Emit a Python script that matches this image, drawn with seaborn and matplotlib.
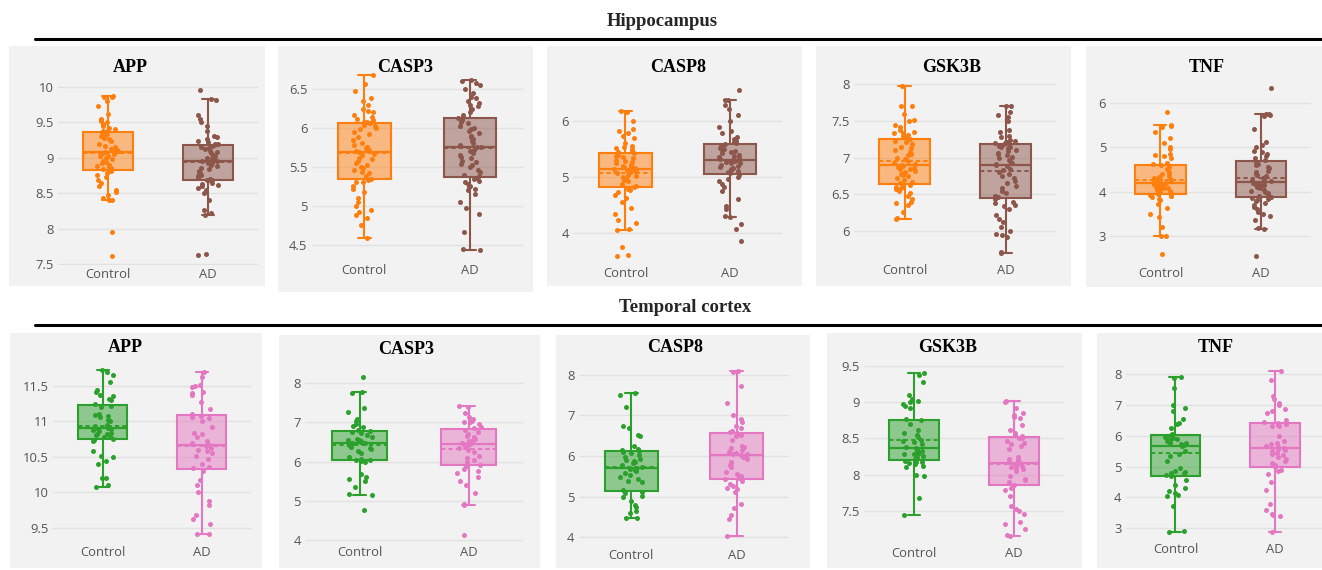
import numpy as np
import pandas as pd
import matplotlib
matplotlib.use("Agg")
import matplotlib.pyplot as plt
from matplotlib.patches import Rectangle
from matplotlib.lines import Line2D
from matplotlib.colors import to_rgba
from matplotlib.ticker import FuncFormatter
import seaborn as sns

# ---------------- data ----------------
groups = ["Control", "AD"]
genes = ["APP", "CASP3", "CASP8", "GSK3B", "TNF"]
sections = ["Hippocampus", "Temporal cortex"]

# Hippocampus
hip_app_control = [8.40, 8.41, 8.43, 8.47, 8.52, 8.55, 8.60, 8.64, 8.68, 8.73, 8.76, 8.79, 8.81, 8.84,
                   8.85, 8.87, 8.88, 8.90, 8.92, 8.94, 8.96, 8.98, 9.00, 9.02, 9.03, 9.05, 9.06, 9.07, 9.08,
                   9.09, 9.10, 9.12, 9.13, 9.15, 9.17, 9.20, 9.23, 9.26, 9.28, 9.30, 9.32, 9.34, 9.36, 9.37,
                   9.38, 9.40, 9.42, 9.44, 9.47, 9.50, 9.52, 9.55, 9.62, 9.73, 9.80, 9.85, 9.86, 9.87,
                   7.96, 7.62]
hip_app_ad = [8.19, 8.22, 8.27, 8.40, 8.50, 8.54, 8.57, 8.60, 8.62, 8.63, 8.65, 8.67, 8.68, 8.69,
              8.70, 8.72, 8.74, 8.76, 8.78, 8.80, 8.82, 8.84, 8.86, 8.88, 8.90, 8.92, 8.93, 8.95, 8.96,
              8.97, 8.99, 9.00, 9.02, 9.04, 9.06, 9.08, 9.10, 9.12, 9.14, 9.15, 9.16, 9.17, 9.18, 9.19,
              9.20, 9.22, 9.24, 9.27, 9.29, 9.30, 9.38, 9.44, 9.50, 9.54, 9.60, 9.81, 9.82,
              9.95, 7.64, 7.63]
hip_casp3_control = [4.58, 4.75, 4.84, 4.88, 4.92, 4.95, 5.00, 5.05, 5.10, 5.18, 5.21, 5.25, 5.30, 5.31, 5.33,
                     5.35, 5.38, 5.42, 5.44, 5.46, 5.48, 5.50, 5.52, 5.55, 5.58, 5.60, 5.62, 5.65, 5.67, 5.69,
                     5.70, 5.72, 5.74, 5.76, 5.78, 5.80, 5.84, 5.88, 5.92, 5.95, 5.98, 6.00, 6.02, 6.04, 6.06,
                     6.07, 6.08, 6.10, 6.12, 6.14, 6.17, 6.20, 6.22, 6.24, 6.30, 6.35, 6.38, 6.48, 6.56, 6.68]
hip_casp3_ad = [4.43, 4.44, 4.66, 4.90, 4.97, 5.05, 5.15, 5.20, 5.22, 5.24, 5.26, 5.28, 5.30, 5.32, 5.34, 5.36,
                5.38, 5.40, 5.43, 5.46, 5.50, 5.52, 5.54, 5.56, 5.58, 5.61, 5.63, 5.65, 5.68, 5.70, 5.72, 5.75,
                5.76, 5.78, 5.80, 5.83, 5.86, 5.88, 5.90, 5.93, 5.96, 5.98, 6.00, 6.03, 6.06, 6.08, 6.10, 6.13,
                6.14, 6.16, 6.20, 6.24, 6.28, 6.30, 6.32, 6.35, 6.38, 6.40, 6.45, 6.50, 6.55, 6.58, 6.60, 6.61]
hip_casp8_control = [4.04, 4.06, 4.18, 4.22, 4.33, 4.45, 4.55, 4.62, 4.68, 4.72, 4.76, 4.79, 4.82,
                     4.84, 4.88, 4.92, 4.95, 4.97, 5.00, 5.02, 5.04, 5.06, 5.08, 5.10, 5.11, 5.12, 5.14, 5.15,
                     5.16, 5.17, 5.18, 5.20, 5.22, 5.24, 5.26, 5.28, 5.30, 5.33, 5.35, 5.38, 5.40, 5.42, 5.45,
                     5.46, 5.50, 5.52, 5.54, 5.56, 5.60, 5.70, 5.74, 5.78, 5.82, 5.85, 6.00, 6.17, 6.18,
                     3.75, 3.60, 3.58]
hip_casp8_ad = [4.28, 4.30, 4.42, 4.48, 4.60, 4.75, 4.82, 4.87, 4.93, 4.97, 5.00, 5.03,
                5.06, 5.08, 5.10, 5.12, 5.14, 5.16, 5.18, 5.20, 5.22, 5.24, 5.25, 5.26, 5.27, 5.28, 5.30,
                5.31, 5.32, 5.34, 5.36, 5.38, 5.40, 5.42, 5.44, 5.46, 5.48, 5.50, 5.52, 5.55, 5.57, 5.59,
                5.61, 5.62, 5.64, 5.68, 5.72, 5.78, 5.82, 5.90, 6.00, 6.10, 6.22, 6.28, 6.37, 6.38,
                6.55, 4.15, 4.07, 3.85]
hip_gsk3b_control = [6.17, 6.18, 6.26, 6.36, 6.38, 6.40, 6.44, 6.48, 6.52, 6.55, 6.57, 6.58, 6.60, 6.62, 6.63,
                     6.65, 6.67, 6.69, 6.72, 6.75, 6.77, 6.78, 6.80, 6.82, 6.84, 6.85, 6.86, 6.87, 6.89, 6.90,
                     6.91, 6.93, 6.95, 6.98, 7.00, 7.03, 7.05, 7.08, 7.10, 7.13, 7.15, 7.18, 7.21, 7.23, 7.25,
                     7.27, 7.29, 7.31, 7.33, 7.34, 7.35, 7.38, 7.42, 7.44, 7.50, 7.52, 7.60, 7.70, 7.71, 7.98]
hip_gsk3b_ad = [5.70, 5.72, 5.92, 5.94, 5.96, 6.00, 6.05, 6.12, 6.16, 6.22, 6.30, 6.34, 6.36, 6.38, 6.40, 6.44,
                6.46, 6.48, 6.52, 6.55, 6.58, 6.62, 6.65, 6.68, 6.72, 6.75, 6.78, 6.80, 6.83, 6.85, 6.88, 6.90,
                6.91, 6.93, 6.95, 6.97, 6.99, 7.01, 7.03, 7.05, 7.07, 7.09, 7.11, 7.13, 7.14, 7.15, 7.16, 7.18,
                7.19, 7.20, 7.21, 7.22, 7.23, 7.24, 7.28, 7.30, 7.35, 7.38, 7.50, 7.55, 7.58, 7.62, 7.70, 7.71]
hip_tnf_control = [2.99, 3.00, 3.20, 3.42, 3.50, 3.62, 3.72, 3.80, 3.84, 3.87, 3.89, 3.90, 3.92, 3.93,
                   3.95, 3.97, 3.99, 4.01, 4.03, 4.05, 4.07, 4.09, 4.10, 4.12, 4.14, 4.15, 4.16, 4.18, 4.19,
                   4.20, 4.21, 4.23, 4.25, 4.27, 4.29, 4.31, 4.33, 4.36, 4.39, 4.42, 4.45, 4.50, 4.55, 4.60,
                   4.62, 4.65, 4.75, 4.80, 4.82, 4.85, 4.95, 5.00, 5.10, 5.20, 5.35, 5.45, 5.48, 5.50,
                   5.78, 2.60]
hip_tnf_ad = [3.15, 3.17, 3.35, 3.45, 3.50, 3.55, 3.60, 3.65, 3.70, 3.74, 3.78, 3.81, 3.84, 3.86,
              3.88, 3.90, 3.93, 3.96, 3.98, 4.01, 4.04, 4.07, 4.10, 4.12, 4.14, 4.15, 4.17, 4.18, 4.20,
              4.21, 4.23, 4.25, 4.28, 4.31, 4.34, 4.37, 4.40, 4.43, 4.47, 4.52, 4.56, 4.60, 4.63, 4.67,
              4.70, 4.75, 4.80, 4.85, 4.88, 4.92, 5.00, 5.05, 5.12, 5.40, 5.70, 5.73, 5.74, 5.75,
              6.32, 2.55]

# Temporal cortex
tc_app_control = [10.08, 10.10, 10.20, 10.21, 10.40, 10.45, 10.50, 10.52, 10.58, 10.72, 10.74,
                  10.76, 10.78, 10.80, 10.81, 10.82, 10.83, 10.84, 10.86, 10.88, 10.89, 10.90,
                  10.91, 10.93, 10.95, 11.00, 11.02, 11.07, 11.08, 11.09, 11.10, 11.20, 11.22,
                  11.25, 11.30, 11.32, 11.36, 11.38, 11.42, 11.45, 11.55, 11.65, 11.70, 11.72]
tc_app_ad = [9.41, 9.42, 9.55, 9.62, 9.68, 9.82, 9.88, 10.00, 10.10, 10.18, 10.30,
             10.34, 10.36, 10.40, 10.47, 10.52, 10.55, 10.58, 10.60, 10.63, 10.65, 10.67,
             10.68, 10.70, 10.72, 10.78, 10.82, 10.84, 10.92, 11.00, 11.05, 11.06, 11.08,
             11.10, 11.18, 11.28, 11.37, 11.40, 11.42, 11.48, 11.50, 11.52, 11.62, 11.70]
tc_casp3_control = [5.15, 5.18, 5.35, 5.50, 5.55, 5.62, 5.68, 6.00, 6.02, 6.03,
                    6.05, 6.08, 6.12, 6.22, 6.28, 6.32, 6.35, 6.38, 6.42, 6.45, 6.47,
                    6.48, 6.50, 6.52, 6.54, 6.56, 6.58, 6.62, 6.68, 6.72, 6.75, 6.77,
                    6.80, 6.88, 6.92, 6.95, 7.05, 7.10, 7.28, 7.38, 7.75, 7.77,
                    8.16, 4.76]
tc_casp3_ad = [4.90, 4.92, 5.20, 5.40, 5.50, 5.60, 5.70, 5.75, 5.82, 5.88,
               5.92, 6.00, 6.05, 6.10, 6.15, 6.25, 6.30, 6.35, 6.40, 6.42, 6.44,
               6.46, 6.48, 6.50, 6.52, 6.55, 6.58, 6.62, 6.65, 6.70, 6.75, 6.82,
               6.85, 6.88, 6.95, 7.00, 7.02, 7.05, 7.10, 7.15, 7.25, 7.40, 7.43,
               4.13]
tc_casp8_control = [4.46, 4.48, 4.60, 4.65, 4.75, 4.80, 4.88, 4.98, 5.02, 5.08, 5.10,
                    5.15, 5.35, 5.38, 5.42, 5.48, 5.52, 5.58, 5.62, 5.65, 5.68, 5.69,
                    5.72, 5.78, 5.82, 5.85, 5.88, 5.90, 5.92, 5.97, 6.02, 6.08, 6.11,
                    6.13, 6.15, 6.18, 6.25, 6.50, 6.52, 6.70, 6.75, 7.22, 7.50, 7.55]
tc_casp8_ad = [4.02, 4.45, 4.55, 4.72, 4.82, 5.10, 5.18, 5.22, 5.25, 5.30, 5.38, 5.42,
               5.45, 5.50, 5.55, 5.60, 5.72, 5.78, 5.82, 5.85, 5.92, 5.98, 6.00, 6.02,
               6.04, 6.06, 6.08, 6.10, 6.15, 6.20, 6.22, 6.25, 6.40, 6.50, 6.52, 6.55,
               6.58, 6.60, 6.62, 6.70, 6.75, 6.85, 6.92, 7.00, 7.30, 7.72, 8.08, 8.10]
tc_gsk3b_control = [7.44, 7.68, 7.98, 8.00, 8.10, 8.12, 8.15, 8.16, 8.17, 8.18, 8.19,
                    8.21, 8.24, 8.26, 8.28, 8.29, 8.30, 8.31, 8.32, 8.34, 8.35, 8.36,
                    8.38, 8.42, 8.45, 8.46, 8.48, 8.52, 8.55, 8.58, 8.62, 8.70, 8.75,
                    8.77, 8.92, 8.95, 8.98, 9.00, 9.02, 9.05, 9.10, 9.28, 9.38, 9.40]
tc_gsk3b_ad = [7.15, 7.17, 7.25, 7.32, 7.35, 7.45, 7.50, 7.52, 7.56, 7.70, 7.78, 7.82,
               7.86, 7.90, 7.92, 7.94, 7.98, 8.05, 8.08, 8.09, 8.10, 8.12, 8.14, 8.15,
               8.16, 8.18, 8.20, 8.22, 8.24, 8.35, 8.40, 8.42, 8.44, 8.46, 8.50, 8.51,
               8.53, 8.55, 8.58, 8.62, 8.68, 8.78, 8.80, 8.82, 8.85, 8.92, 9.00, 9.01]
tc_tnf_control = [2.89, 2.90, 3.72, 4.05, 4.08, 4.15, 4.20, 4.30, 4.40, 4.55, 4.68,
                  4.72, 4.78, 4.80, 4.82, 4.85, 4.95, 5.18, 5.35, 5.42, 5.50, 5.66,
                  5.70, 5.72, 5.75, 5.78, 5.82, 5.85, 5.90, 5.92, 5.95, 5.98, 6.02,
                  6.05, 6.25, 6.38, 6.40, 6.55, 6.80, 6.90, 7.00, 7.55, 7.88, 7.90]
tc_tnf_ad = [3.40, 3.42, 3.45, 3.60, 3.80, 4.25, 4.50, 4.75, 4.85, 4.90, 4.98,
             5.05, 5.12, 5.18, 5.25, 5.30, 5.38, 5.42, 5.45, 5.50, 5.55, 5.58, 5.61,
             5.64, 5.68, 5.72, 5.78, 5.82, 6.00, 6.30, 6.32, 6.35, 6.38, 6.42,
             6.46, 6.50, 6.75, 6.80, 6.85, 7.00, 7.05, 7.20, 7.30, 7.80, 8.10,
             2.88]

hip_ticks = [[7.5, 8, 8.5, 9, 9.5, 10], [4.5, 5, 5.5, 6, 6.5], [4, 5, 6],
             [6, 6.5, 7, 7.5, 8], [3, 4, 5, 6]]
tc_ticks = [[9.5, 10, 10.5, 11, 11.5], [4, 5, 6, 7, 8], [4, 5, 6, 7, 8],
            [7.5, 8, 8.5, 9, 9.5], [3, 4, 5, 6, 7, 8]]

hip_data = [(hip_app_control, hip_app_ad), (hip_casp3_control, hip_casp3_ad),
            (hip_casp8_control, hip_casp8_ad), (hip_gsk3b_control, hip_gsk3b_ad),
            (hip_tnf_control, hip_tnf_ad)]
tc_data = [(tc_app_control, tc_app_ad), (tc_casp3_control, tc_casp3_ad),
           (tc_casp8_control, tc_casp8_ad), (tc_gsk3b_control, tc_gsk3b_ad),
           (tc_tnf_control, tc_tnf_ad)]

hip_colors = {"Control": "#ff7f0e", "AD": "#8c564b"}
tc_colors = {"Control": "#2ca02c", "AD": "#e377c2"}

# ---------------- layout (pixels) ----------------
W, H = 1322, 570
BG = "#f2f2f2"

hip_layout = [
    dict(bg=(9, 46, 265, 286), x=(57.5, 257.5), y=(72, 265), cal=((10, 86.7), (7.5, 264.3)), title=(130, 67)),
    dict(bg=(278, 46, 533, 292), x=(311.5, 522.8), y=(72, 261), cal=((6.5, 89), (4.5, 244.7)), title=(405, 67)),
    dict(bg=(547, 46, 802, 286), x=(573.2, 782.2), y=(72, 264.5), cal=((6, 121), (4, 232.7)), title=(678, 67)),
    dict(bg=(816, 46, 1071, 286), x=(854, 1056.2), y=(72, 261.5), cal=((8, 84.3), (6, 231)), title=(952, 67)),
    dict(bg=(1086, 46, 1322, 287), x=(1110.3, 1311), y=(72, 264), cal=((6, 102.7), (3, 236)), title=(1207, 67)),
]
tc_layout = [
    dict(bg=(10, 333, 262, 568), x=(53.2, 251.2), y=(360, 543.5), cal=((11.5, 386), (9.5, 528)), title=(125, 347)),
    dict(bg=(279, 335, 540, 568), x=(305.2, 523.2), y=(360, 543.5), cal=((8, 383.3), (4, 540)), title=(406, 349)),
    dict(bg=(556, 335, 810, 568), x=(578.7, 789.1), y=(360, 546), cal=((8, 375), (4, 537)), title=(675, 348)),
    dict(bg=(827, 333, 1082, 568), x=(863.5, 1064.4), y=(360, 544), cal=((9.5, 366), (7.5, 510.7)), title=(948, 347)),
    dict(bg=(1097, 333, 1322, 568), x=(1125.6, 1325), y=(360, 540), cal=((8, 374), (3, 528.3)), title=(1216, 348)),
]

sns.set_style("white")
plt.rcParams["font.family"] = ["Open Sans", "DejaVu Sans"]
np.random.seed(3)

fig = plt.figure(figsize=(W / 100, H / 100), dpi=100)
fig.patch.set_facecolor("white")

TITLE_FONT = ["Liberation Serif", "DejaVu Serif"]


def draw_panel(spec, pair, colors, ticks, gene):
    x0, y0, x1, y1 = spec["bg"]
    fig.add_artist(Rectangle((x0 / W, 1 - y1 / H), (x1 - x0) / W, (y1 - y0) / H,
                             transform=fig.transFigure, facecolor=BG, edgecolor="none", zorder=-5))
    l, r = spec["x"]
    t, b = spec["y"]
    ax = fig.add_axes([l / W, 1 - b / H, (r - l) / W, (b - t) / H])
    ax.set_facecolor("none")
    df = pd.DataFrame({
        "group": ["Control"] * len(pair[0]) + ["AD"] * len(pair[1]),
        "value": list(pair[0]) + list(pair[1]),
    })
    for g in groups:
        c = colors[g]
        sub = df[df["group"] == g]
        sns.boxplot(data=sub, x="group", y="value", order=groups, ax=ax,
                    color=c, linecolor=c, saturation=1, width=0.5, linewidth=1.5,
                    showfliers=False, showmeans=True, meanline=True,
                    boxprops=dict(facecolor=to_rgba(c, 0.5), edgecolor=c),
                    meanprops=dict(color=c, linestyle=(0, (2.2, 1.6)), linewidth=1.4),
                    medianprops=dict(color=c, linewidth=1.6),
                    capwidths=0.12)
    for g in groups:
        c = colors[g]
        sub = df[df["group"] == g]
        sns.stripplot(data=sub, x="group", y="value", order=groups, ax=ax,
                      color=c, size=3.6, jitter=0.11, linewidth=0, zorder=4)
    (va, pa), (vb, pb) = spec["cal"]
    s = (pb - pa) / (va - vb)
    ax.set_ylim(vb - (b - pb) / s, va + (pa - t) / s)
    ax.set_xlim(-0.5, 1.5)
    ax.set_yticks(ticks)
    ax.yaxis.set_major_formatter(FuncFormatter(lambda v, p: f"{v:g}"))
    ax.set_xlabel("")
    ax.set_ylabel("")
    for sp in ax.spines.values():
        sp.set_visible(False)
    ax.yaxis.grid(True, color="#e1e1e1", linewidth=1.0)
    ax.xaxis.grid(False)
    ax.set_axisbelow(True)
    ax.tick_params(axis="y", length=0, labelsize=9.4, labelcolor="#555555", pad=3)
    ax.tick_params(axis="x", length=0, labelsize=9.4, labelcolor="#555555", pad=2)
    tx, ty = spec["title"]
    fig.text(tx / W, 1 - ty / H, gene, ha="center", va="center", fontsize=13,
             fontweight="bold", family=TITLE_FONT, color="black")


for i, gene in enumerate(genes):
    draw_panel(hip_layout[i], hip_data[i], hip_colors, hip_ticks[i], gene)
    draw_panel(tc_layout[i], tc_data[i], tc_colors, tc_ticks[i], gene)

# section headers and rules
fig.text(662 / W, 1 - 21 / H, sections[0], ha="center", va="center", fontsize=13.5,
         fontweight="bold", family=TITLE_FONT)
fig.text(685 / W, 1 - 307 / H, sections[1], ha="center", va="center", fontsize=13.5,
         fontweight="bold", family=TITLE_FONT)
for yy in (39, 325):
    fig.add_artist(Line2D([35 / W, 1.0], [1 - yy / H, 1 - yy / H], color="black",
                          linewidth=2.2, transform=fig.transFigure))

fig.savefig("out.png", dpi=100)
